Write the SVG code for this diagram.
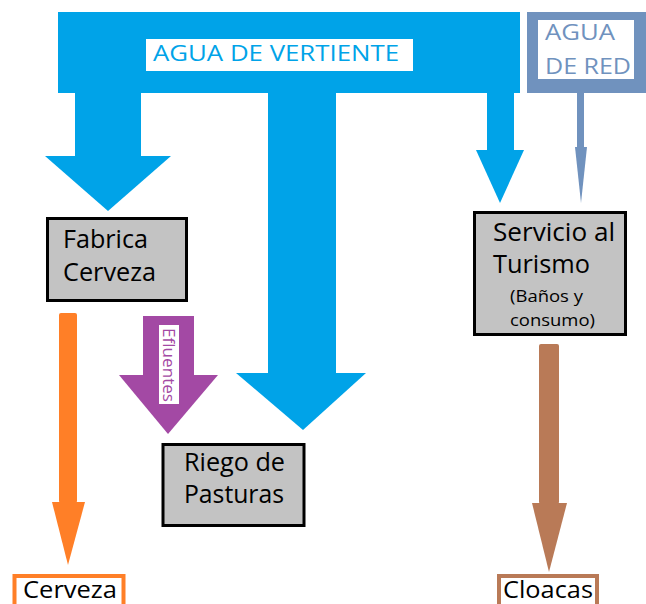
<svg xmlns="http://www.w3.org/2000/svg" width="646" height="604" viewBox="0 0 646 604">
<style>
.t{font-family:"Open Sans","Liberation Sans",sans-serif;fill:#000}
.box{fill:#C3C3C3;stroke:#000;stroke-width:3}
.blue{fill:#00A3E8}
.red{fill:#7092BE}
</style>
<rect width="646" height="604" fill="#fff"/>
<g id="connectors">
  <g id="agua-vertiente-flow" class="blue">
    <rect x="58" y="12" width="462" height="81"/>
    <rect x="75" y="92" width="66" height="65"/>
    <polygon points="45,156 171,156 108,211"/>
    <rect x="268" y="92" width="68" height="282"/>
    <polygon points="236,373 366,373 303,430"/>
    <rect x="487" y="92" width="27" height="59"/>
    <polygon points="476,150 524,150 500,203"/>
  </g>
  <g id="agua-red-flow" class="red">
    <rect x="577" y="92" width="7" height="56"/>
    <polygon points="575,147 587,147 581,203"/>
  </g>
  <g id="cerveza-flow" fill="#FF7F27">
    <rect x="59" y="313" width="18" height="190" rx="2"/>
    <polygon points="52,502 85,502 68,565"/>
  </g>
  <g id="efluentes-flow">
    <rect x="143" y="316" width="51" height="60" fill="#A349A4"/>
    <polygon points="119,375 218,375 168,434" fill="#A349A4"/>
    <rect x="159" y="325" width="20" height="79" fill="#fff"/>
    <text class="t" x="0" y="0" font-size="17" style="fill:#A349A4" text-anchor="middle" textLength="74" lengthAdjust="spacingAndGlyphs" transform="translate(163,365) rotate(90)">Efluentes</text>
  </g>
  <g id="cloacas-flow" fill="#B97A57">
    <rect x="539" y="344" width="20" height="160" rx="2"/>
    <polygon points="532,503 567,503 549,572"/>
  </g>
</g>
<g id="agua-vertiente">
  <rect x="146" y="39" width="267" height="32" fill="#fff"/>
  <text class="t" x="153" y="61" font-size="22" style="fill:#00A3E8" textLength="246" lengthAdjust="spacingAndGlyphs">AGUA DE VERTIENTE</text>
</g>
<g id="agua-red">
  <rect x="527" y="12" width="119" height="81" class="red"/>
  <rect x="538" y="20" width="96" height="59" fill="#fff"/>
  <text class="t" x="545" y="40" font-size="22" style="fill:#7092BE" textLength="70" lengthAdjust="spacingAndGlyphs">AGUA</text>
  <text class="t" x="545" y="74" font-size="22" style="fill:#7092BE" textLength="86" lengthAdjust="spacingAndGlyphs">DE RED</text>
</g>
<g id="fabrica-cerveza">
  <rect class="box" x="47.5" y="218.5" width="139" height="82"/>
  <text class="t" x="63" y="248" font-size="25" textLength="85" lengthAdjust="spacingAndGlyphs">Fabrica</text>
  <text class="t" x="63" y="281" font-size="25" textLength="93" lengthAdjust="spacingAndGlyphs">Cerveza</text>
</g>
<g id="riego-pasturas">
  <rect class="box" x="163" y="444.5" width="141" height="81"/>
  <text class="t" x="184" y="471" font-size="25" textLength="101" lengthAdjust="spacingAndGlyphs">Riego de</text>
  <text class="t" x="184" y="503" font-size="25" textLength="100" lengthAdjust="spacingAndGlyphs">Pasturas</text>
</g>
<g id="servicio-turismo">
  <rect class="box" x="474.5" y="212.5" width="151" height="122"/>
  <text class="t" x="493" y="241" font-size="25" textLength="122" lengthAdjust="spacingAndGlyphs">Servicio al</text>
  <text class="t" x="493" y="273" font-size="25" textLength="97" lengthAdjust="spacingAndGlyphs">Turismo</text>
  <text class="t" x="510" y="302" font-size="17" textLength="73" lengthAdjust="spacingAndGlyphs">(Baños y</text>
  <text class="t" x="510" y="326" font-size="17" textLength="85" lengthAdjust="spacingAndGlyphs">consumo)</text>
</g>
<g id="cerveza">
  <rect x="14.5" y="576" width="109" height="40" fill="#fff" stroke="#FF7F27" stroke-width="4"/>
  <text class="t" x="23" y="598" font-size="24" textLength="94" lengthAdjust="spacingAndGlyphs">Cerveza</text>
</g>
<g id="cloacas">
  <rect x="499" y="576" width="98" height="40" fill="#fff" stroke="#B97A57" stroke-width="4"/>
  <text class="t" x="503" y="598" font-size="24" textLength="90" lengthAdjust="spacingAndGlyphs">Cloacas</text>
</g>
</svg>
